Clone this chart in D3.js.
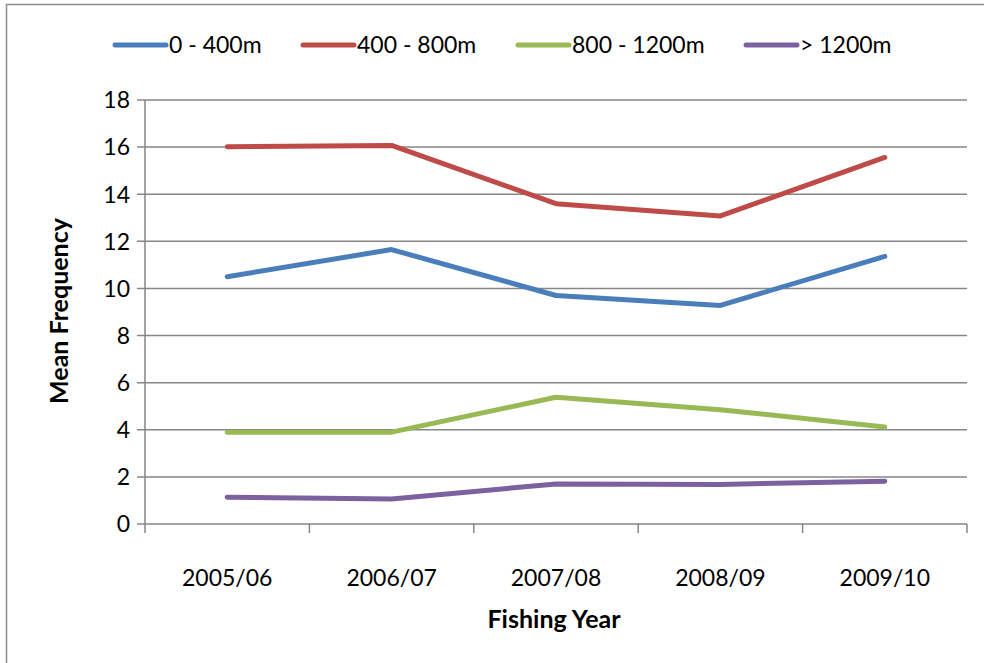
<!DOCTYPE html>
<html>
<head>
<meta charset="utf-8">
<script src="https://cdn.jsdelivr.net/npm/d3@7"></script>
<style>
  body { margin: 0; background: #fff; }
  svg text { font-family: Lato, "Open Sans", sans-serif; fill: #000; }
</style>
</head>
<body>
<div id="chart"></div>
<script>
var years = ["2005/06", "2006/07", "2007/08", "2008/09", "2009/10"];
var seriesNames = ["0 - 400m", "400 - 800m", "800 - 1200m", "> 1200m"];
var depth0 = [10.5, 11.65, 9.7, 9.28, 11.36];
var depth400 = [16.02, 16.07, 13.6, 13.08, 15.56];
var depth800 = [3.9, 3.9, 5.38, 4.85, 4.12];
var depth1200 = [1.14, 1.06, 1.7, 1.68, 1.82];
var yTicks = [0, 2, 4, 6, 8, 10, 12, 14, 16, 18];
var colors = ["#4a7ebb", "#be4b48", "#98b954", "#7d60a0"];

var allSeries = [depth0, depth400, depth800, depth1200];

var width = 984, height = 663;
var margin = {top: 100, right: 17, bottom: 139, left: 145};
var w = width - margin.left - margin.right,
    h = height - margin.top - margin.bottom;

var svg = d3.select("#chart").append("svg")
    .attr("width", width)
    .attr("height", height);

// outer border of the chart box
svg.append("rect")
    .attr("x", 6.5).attr("y", 4.5)
    .attr("width", 1000).attr("height", 700)
    .style("fill", "none")
    .style("stroke", "#8c8c8c")
    .style("stroke-width", 1.5);

var g = svg.append("g")
    .attr("transform", "translate(" + margin.left + "," + margin.top + ")");

var x = d3.scaleBand().domain(years).range([0, w]),
    y = d3.scaleLinear().domain([0, 18]).range([h, 0]);

// gridlines
g.append("g")
    .selectAll("line")
    .data(yTicks)
    .enter().append("line")
    .attr("x1", -8).attr("x2", w)
    .attr("y1", function(d) { return y(d); })
    .attr("y2", function(d) { return y(d); })
    .style("stroke", "#868686")
    .style("stroke-width", 1.5);

// y axis line
g.append("line")
    .attr("x1", 0).attr("x2", 0)
    .attr("y1", 0).attr("y2", h + 9)
    .style("stroke", "#868686")
    .style("stroke-width", 1.5);

// x axis ticks (category boundaries)
var bounds = years.map(function(d) { return x(d); }).concat([w]);
g.append("g")
    .selectAll("line")
    .data(bounds.slice(1))
    .enter().append("line")
    .attr("x1", function(d) { return d; })
    .attr("x2", function(d) { return d; })
    .attr("y1", h).attr("y2", h + 9)
    .style("stroke", "#868686")
    .style("stroke-width", 1.5);

// y tick labels
g.append("g")
    .selectAll("text")
    .data(yTicks)
    .enter().append("text")
    .attr("x", -15)
    .attr("y", function(d) { return y(d); })
    .attr("dy", "0.36em")
    .attr("text-anchor", "end")
    .style("font-size", "23px")
    .text(function(d) { return d; });

// x tick labels
g.append("g")
    .selectAll("text")
    .data(years)
    .enter().append("text")
    .attr("x", function(d) { return x(d) + x.bandwidth() / 2; })
    .attr("y", h + 62)
    .attr("text-anchor", "middle")
    .style("font-size", "23px")
    .text(function(d) { return d; });

// axis titles
svg.append("text")
    .attr("x", 554).attr("y", 628)
    .attr("text-anchor", "middle")
    .style("font-size", "25px")
    .style("font-weight", "bold")
    .text("Fishing Year");

svg.append("text")
    .attr("transform", "translate(68,311) rotate(-90)")
    .attr("text-anchor", "middle")
    .style("font-size", "25px")
    .style("font-weight", "bold")
    .text("Mean Frequency");

// lines
var line = d3.line()
    .x(function(d, i) { return x(years[i]) + x.bandwidth() / 2; })
    .y(function(d) { return y(d); });

g.selectAll(".series")
    .data(allSeries)
    .enter().append("path")
    .attr("class", "series")
    .attr("d", function(d) { return line(d); })
    .style("fill", "none")
    .style("stroke", function(d, i) { return colors[i]; })
    .style("stroke-width", 5)
    .style("stroke-linecap", "round")
    .style("stroke-linejoin", "round");

// legend
var legendX = [113, 301, 516, 744];
var legend = svg.append("g").selectAll("g")
    .data(seriesNames)
    .enter().append("g")
    .attr("transform", function(d, i) { return "translate(" + legendX[i] + ",45)"; });

legend.append("line")
    .attr("x1", 2).attr("x2", 53)
    .attr("y1", 0).attr("y2", 0)
    .style("stroke", function(d, i) { return colors[i]; })
    .style("stroke-width", 5)
    .style("stroke-linecap", "round");

legend.append("text")
    .attr("x", 56)
    .attr("dy", "0.36em")
    .style("font-size", "23px")
    .text(function(d) { return d; });
</script>
</body>
</html>
